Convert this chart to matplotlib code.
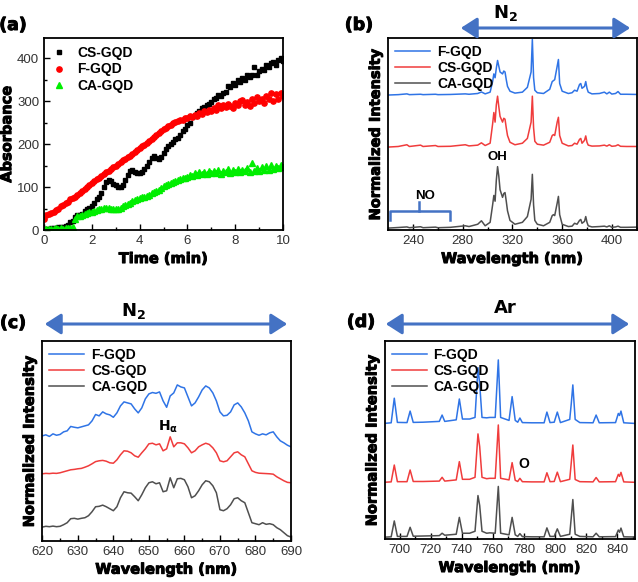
import numpy as np
import matplotlib
matplotlib.use('Agg')
import matplotlib.pyplot as plt
import matplotlib.patheffects as pe
from matplotlib.ticker import MultipleLocator, NullLocator
from matplotlib.patches import FancyArrowPatch

plt.rcParams['font.family'] = ['Liberation Sans', 'DejaVu Sans']
plt.rcParams['mathtext.fontset'] = 'dejavusans'

BLUE = '#2f74e6'
RED = '#f03c3c'
GRAY = '#4f4f4f'
ARROW = '#4472c4'
HEAVY = [pe.withStroke(linewidth=0.7, foreground='black')]

# (a) absorbance vs time, one reading every 0.1 min
time_a = [i / 10 for i in range(101)]
cs_abs = [2, 3, 2, 4, 5, 4, 6, 7, 8, 10, 12, 18, 22, 30, 36, 35, 38, 44, 48, 52,
          57, 64, 72, 78, 86, 100, 112, 116, 114, 108, 104, 100, 99, 104, 116, 128, 138,
          140, 136, 133, 132, 136, 142, 150, 158, 168, 172, 168, 165, 170, 180, 188, 195,
          200, 205, 212, 215, 222, 230, 236, 245, 250, 262, 265, 272, 276, 284, 286, 292,
          294, 298, 306, 308, 314, 312, 320, 322, 336, 333, 342, 338, 350, 345, 353, 350,
          360, 356, 362, 380, 362, 370, 376, 373, 385, 380, 388, 392, 384, 395, 400, 393]
f_abs = [25, 35, 38, 40, 42, 46, 50, 55, 58, 62, 66, 72, 75, 78, 82, 86, 90, 95, 100,
         105, 110, 114, 118, 122, 126, 130, 134, 138, 142, 146, 150, 154, 158, 162, 165,
         169, 173, 178, 182, 186, 190, 195, 199, 203, 208, 212, 217, 221, 226, 230, 234,
         238, 242, 245, 248, 252, 253, 257, 256, 261, 261, 266, 263, 268, 266, 272, 270,
         276, 274, 280, 278, 284, 280, 292, 283, 290, 286, 294, 288, 283, 295, 290, 300,
         302, 292, 298, 288, 305, 296, 310, 300, 306, 296, 312, 304, 318, 300, 316, 306,
         320, 312]
ca_abs = [2, 3, 2, 3, 2, 4, 3, 4, 3, 5, 4, 5, 8, 26, 32, 33, 35, 38, 40, 41, 43, 45,
          47, 48, 50, 51, 52, 51, 50, 49, 50, 50, 52, 55, 58, 61, 64, 67, 70, 72, 74, 76,
          78, 80, 82, 85, 88, 91, 94, 98, 102, 105, 108, 110, 112, 114, 116, 118, 120, 122,
          124, 128, 125, 132, 128, 134, 130, 136, 131, 138, 132, 137, 133, 140, 131, 138,
          134, 141, 133, 139, 136, 143, 135, 140, 137, 145, 134, 157, 138, 144, 137, 146,
          139, 148, 140, 152, 142, 149, 144, 151, 147]

# (b) 220-420 nm emission, intensity above each baseline
wl_b = [220, 228, 235, 237, 246, 248, 258, 260, 270, 282, 285, 292, 295, 298, 302, 304,
        305, 306, 307, 308, 309, 310, 312, 313, 314, 315, 316, 318, 322, 328, 332, 335,
        336, 337, 338, 340, 345, 350, 352, 353, 354, 356, 357, 358, 360, 365, 368, 370,
        372, 374, 375, 376, 378, 379, 380, 381, 384, 390, 394, 396, 398, 400, 403, 405,
        407, 412, 420]
ca_b = [0.0, 0.003, 0.006, 0.002, 0.007, 0.002, 0.005, 0.002, 0.004, 0.012, 0.008, 0.02,
        0.038, 0.012, 0.03, 0.12, 0.17, 0.14, 0.25, 0.32, 0.27, 0.2, 0.16, 0.18, 0.185,
        0.14, 0.09, 0.04, 0.02, 0.03, 0.06, 0.15, 0.28, 0.12, 0.04, 0.02, 0.012, 0.03,
        0.065, 0.07, 0.065, 0.13, 0.165, 0.07, 0.02, 0.008, 0.01, 0.025, 0.02, 0.04,
        0.045, 0.025, 0.035, 0.06, 0.03, 0.012, 0.006, 0.008, 0.01, 0.006, 0.012, 0.004,
        0.006, 0.01, 0.004, 0.004, 0.005]
cs_b = [0.0, 0.003, 0.012, 0.003, 0.01, 0.003, 0.008, 0.003, 0.004, 0.012, 0.006, 0.01,
        0.022, 0.008, 0.02, 0.12, 0.18, 0.13, 0.22, 0.265, 0.21, 0.16, 0.13, 0.15, 0.145,
        0.1, 0.06, 0.025, 0.012, 0.02, 0.045, 0.13, 0.265, 0.1, 0.03, 0.015, 0.01, 0.025,
        0.06, 0.065, 0.06, 0.13, 0.155, 0.06, 0.02, 0.006, 0.008, 0.02, 0.015, 0.04,
        0.045, 0.02, 0.035, 0.058, 0.025, 0.01, 0.005, 0.006, 0.01, 0.005, 0.012, 0.004,
        0.006, 0.012, 0.004, 0.003, 0.003]
f_b = [0.0, 0.002, 0.006, 0.002, 0.004, 0.002, 0.004, 0.002, 0.003, 0.006, 0.004, 0.008,
       0.016, 0.006, 0.015, 0.07, 0.11, 0.09, 0.14, 0.18, 0.15, 0.12, 0.11, 0.125, 0.12,
       0.08, 0.045, 0.02, 0.01, 0.015, 0.04, 0.12, 0.29, 0.09, 0.025, 0.012, 0.008, 0.03,
       0.07, 0.075, 0.08, 0.15, 0.185, 0.06, 0.02, 0.008, 0.012, 0.025, 0.02, 0.055,
       0.06, 0.035, 0.045, 0.07, 0.035, 0.015, 0.006, 0.008, 0.015, 0.006, 0.015, 0.005,
       0.008, 0.018, 0.004, 0.004, 0.003]

# (c) 620-690 nm, stacked normalized intensity
wl_c = list(range(620, 691))
f_c = [0.525, 0.53, 0.522, 0.535, 0.528, 0.532, 0.545, 0.55, 0.572, 0.568, 0.565, 0.57,
       0.575, 0.58, 0.6, 0.632, 0.625, 0.645, 0.635, 0.63, 0.618, 0.64, 0.675, 0.695,
       0.69, 0.685, 0.66, 0.64, 0.665, 0.71, 0.735, 0.742, 0.738, 0.745, 0.7, 0.668,
       0.725, 0.74, 0.78, 0.77, 0.765, 0.72, 0.675, 0.69, 0.72, 0.755, 0.775, 0.765,
       0.74, 0.7, 0.645, 0.625, 0.628, 0.645, 0.68, 0.69, 0.67, 0.64, 0.6, 0.545, 0.535,
       0.528, 0.535, 0.53, 0.54, 0.545, 0.52, 0.5, 0.49, 0.478, 0.47]
cs_c = [0.335, 0.337, 0.336, 0.338, 0.337, 0.34, 0.345, 0.35, 0.355, 0.357, 0.36, 0.362,
        0.368, 0.375, 0.385, 0.396, 0.4, 0.402, 0.398, 0.39, 0.388, 0.405, 0.43, 0.45,
        0.448, 0.44, 0.425, 0.418, 0.44, 0.46, 0.485, 0.488, 0.48, 0.485, 0.45, 0.46,
        0.52, 0.47, 0.49, 0.49, 0.485, 0.465, 0.44, 0.45, 0.47, 0.48, 0.488, 0.482, 0.465,
        0.44, 0.4, 0.395, 0.4, 0.42, 0.44, 0.445, 0.43, 0.42, 0.385, 0.35, 0.342, 0.338,
        0.337, 0.336, 0.335, 0.333, 0.32, 0.31, 0.3, 0.292, 0.29]
ca_c = [0.068, 0.072, 0.07, 0.073, 0.07, 0.072, 0.08, 0.09, 0.11, 0.112, 0.108, 0.112,
        0.115, 0.125, 0.145, 0.17, 0.172, 0.178, 0.17, 0.16, 0.15, 0.17, 0.215, 0.245,
        0.24, 0.238, 0.22, 0.2, 0.23, 0.265, 0.29, 0.295, 0.285, 0.29, 0.245, 0.25, 0.315,
        0.265, 0.31, 0.312, 0.305, 0.27, 0.215, 0.225, 0.25, 0.28, 0.3, 0.295, 0.275,
        0.24, 0.155, 0.15, 0.16, 0.18, 0.21, 0.215, 0.2, 0.19, 0.14, 0.09, 0.085, 0.08,
        0.09, 0.082, 0.085, 0.08, 0.065, 0.055, 0.04, 0.025, 0.018]

# (d) Ar lines 690-850 nm, intensity above each baseline
wl_d = [690, 694.5, 696.5, 698.5, 704.7, 706.7, 708.7, 715, 725.5, 727.3, 729, 736.4,
        738.4, 740.4, 745, 748.5, 750.4, 751.5, 753, 756, 758, 761.5, 763.5, 765, 770.4,
        772.4, 774.4, 776, 777.4, 779, 785, 793, 794.8, 796.8, 799.5, 801.5, 803.5, 809.5,
        810.5, 811.5, 813, 816, 824.5, 826.5, 828.5, 839, 840.8, 841.6, 842.5, 844.3, 851]
ca_d = [0.0, 0.002, 0.082, 0.004, 0.004, 0.05, 0.005, 0.006, 0.008, 0.02, 0.01, 0.015,
        0.1, 0.02, 0.02, 0.03, 0.21, 0.16, 0.03, 0.02, 0.022, 0.02, 0.256, 0.02, 0.012,
        0.1, 0.012, 0.004, 0.018, 0.003, 0.002, 0.002, 0.047, 0.004, 0.004, 0.042, 0.004,
        0.015, 0.1, 0.19, 0.015, 0.004, 0.002, 0.02, 0.002, 0.003, 0.036, 0.025, 0.046,
        0.002, 0.001]
cs_d = [0.0, 0.002, 0.087, 0.003, 0.003, 0.062, 0.004, 0.004, 0.006, 0.025, 0.006, 0.012,
        0.104, 0.015, 0.015, 0.025, 0.244, 0.18, 0.025, 0.018, 0.02, 0.02, 0.289, 0.02,
        0.012, 0.099, 0.01, 0.004, 0.02, 0.003, 0.002, 0.002, 0.048, 0.003, 0.004, 0.051,
        0.003, 0.015, 0.1, 0.188, 0.014, 0.003, 0.002, 0.024, 0.002, 0.003, 0.04, 0.03,
        0.05, 0.002, 0.0]
f_d = [0.0, 0.003, 0.127, 0.005, 0.004, 0.062, 0.005, 0.006, 0.01, 0.042, 0.01, 0.018,
       0.123, 0.022, 0.022, 0.03, 0.281, 0.2, 0.03, 0.028, 0.03, 0.03, 0.32, 0.03, 0.015,
       0.135, 0.015, 0.006, 0.027, 0.004, 0.003, 0.003, 0.057, 0.004, 0.006, 0.057, 0.004,
       0.02, 0.1, 0.194, 0.02, 0.004, 0.003, 0.042, 0.003, 0.004, 0.05, 0.04, 0.062,
       0.003, 0.0]


def style(ax, xlabel, ylabel, xmaj, xmin):
    ax.xaxis.set_major_locator(MultipleLocator(xmaj))
    ax.xaxis.set_minor_locator(MultipleLocator(xmin))
    ax.tick_params(which='both', direction='in', top=False, right=False,
                   labelsize=9.5, labelcolor='#333333', width=1)
    ax.tick_params(which='major', length=4)
    ax.tick_params(which='minor', length=2.5)
    for s in ax.spines.values():
        s.set_linewidth(1.3)
    ax.set_xlabel(xlabel, fontsize=10.5, fontweight='bold', family='DejaVu Sans',
                  labelpad=3, path_effects=HEAVY)
    ax.set_ylabel(ylabel, fontsize=10.5, fontweight='bold', family='DejaVu Sans',
                  labelpad=4, path_effects=HEAVY)


def spectra_legend(ax):
    ax.legend(loc='upper left', frameon=False, handlelength=2.5,
              handletextpad=0.5, labelspacing=0.15, borderaxespad=0.1,
              prop={'weight': 'bold', 'size': 10})


def arrow(fig, x0, x1, y):
    a = FancyArrowPatch((x0, y), (x1, y), transform=fig.transFigure,
                        arrowstyle='<|-|>,head_length=0.7,head_width=0.45',
                        mutation_scale=14, lw=2.2, color=ARROW)
    fig.add_artist(a)


fig = plt.figure(figsize=(6.38, 5.82), dpi=100)

# panel a
ax = fig.add_axes([0.069, 0.6048, 0.3746, 0.3299])
ax.plot(time_a, cs_abs, 's', color='black', ms=3.4, label='CS-GQD')
ax.plot(time_a, f_abs, 'o', color='#ff0000', ms=3.8, label='F-GQD')
ax.plot(time_a, ca_abs, '^', color='#00ee00', ms=3.8, label='CA-GQD')
ax.set_xlim(0, 10)
ax.set_ylim(0, 447)
ax.yaxis.set_major_locator(MultipleLocator(100))
ax.yaxis.set_minor_locator(MultipleLocator(50))
style(ax, 'Time (min)', 'Absorbance', 2, 1)
ax.yaxis.labelpad = 2
ax.legend(loc='upper left', frameon=False, handlelength=1, handletextpad=0.8,
          labelspacing=0.15, borderaxespad=0.2, prop={'weight': 'bold', 'size': 10})

# panel b
ax = fig.add_axes([0.6086, 0.6048, 0.3893, 0.3299])
ax.plot(wl_b, np.array(f_b) + 0.703, color=BLUE, lw=1.1, label='F-GQD')
ax.plot(wl_b, np.array(cs_b) + 0.432, color=RED, lw=1.1, label='CS-GQD')
ax.plot(wl_b, np.array(ca_b) + 0.01, color=GRAY, lw=1.1, label='CA-GQD')
ax.set_xlim(220, 420)
ax.set_ylim(0, 1)
ax.yaxis.set_major_locator(NullLocator())
style(ax, 'Wavelength (nm)', 'Normalized Intensity', 40, 20)
spectra_legend(ax)
ax.plot([221, 221, 270, 270], [0.052, 0.1, 0.1, 0.052], color=ARROW, lw=1.8)
ax.plot([245, 245], [0.1, 0.147], color=ARROW, lw=1.8)
ax.text(250, 0.177, 'NO', ha='center', va='center', fontsize=9.5, fontweight='bold')
ax.text(308, 0.38, 'OH', ha='center', va='center', fontsize=9.5, fontweight='bold')

# panel c
ax = fig.add_axes([0.0663, 0.071, 0.3898, 0.3431])
ax.plot(wl_c, f_c, color=BLUE, lw=1.1, label='F-GQD')
ax.plot(wl_c, cs_c, color=RED, lw=1.1, label='CS-GQD')
ax.plot(wl_c, ca_c, color=GRAY, lw=1.1, label='CA-GQD')
ax.set_xlim(620, 690)
ax.set_ylim(0, 1)
ax.yaxis.set_major_locator(NullLocator())
style(ax, 'Wavelength (nm)', 'Normalized Intensity', 10, 5)
spectra_legend(ax)
ax.text(655.5, 0.57, r'$\mathbf{H}_{\mathbf{\alpha}}$', ha='center', va='center', fontsize=10)

# panel d
ax = fig.add_axes([0.6034, 0.0739, 0.3918, 0.3407])
ax.plot(wl_d, np.array(f_d) + 0.583, color=BLUE, lw=1.1, label='F-GQD')
ax.plot(wl_d, np.array(cs_d) + 0.286, color=RED, lw=1.1, label='CS-GQD')
ax.plot(wl_d, np.array(ca_d) + 0.009, color=GRAY, lw=1.1, label='CA-GQD')
ax.set_xlim(690.5, 851.5)
ax.set_ylim(0, 1)
ax.yaxis.set_major_locator(NullLocator())
style(ax, 'Wavelength (nm)', 'Normalized Intensity', 20, 10)
spectra_legend(ax)
ax.text(780, 0.38, 'O', ha='center', va='center', fontsize=10, fontweight='bold')

# panel letters, arrows and gas labels
for x, y, s in [(13, 25, '(a)'), (359, 25, '(b)'), (13, 323, '(c)'), (361, 322, '(d)')]:
    fig.text(x / 638, 1 - y / 582, s, ha='center', va='center', fontsize=12.5,
             fontweight='bold', family='DejaVu Sans', path_effects=HEAVY)

arrow(fig, 458 / 638, 633 / 638, 1 - 28 / 582)
arrow(fig, 42 / 638, 290 / 638, 1 - 324 / 582)
arrow(fig, 383 / 638, 632 / 638, 1 - 324 / 582)
fig.text(505 / 638, 1 - 13 / 582, r'$\mathbf{N_2}$', ha='center', va='center', fontsize=13)
fig.text(133 / 638, 1 - 311 / 582, r'$\mathbf{N_2}$', ha='center', va='center', fontsize=13)
fig.text(505 / 638, 1 - 308 / 582, 'Ar', ha='center', va='center', fontsize=13,
         fontweight='bold', family='DejaVu Sans')

fig.savefig('out.png', dpi=100)
